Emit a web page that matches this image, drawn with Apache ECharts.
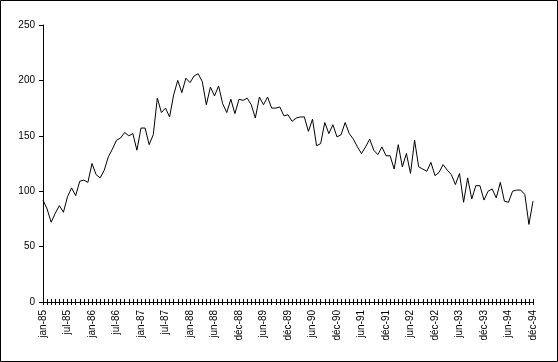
<!DOCTYPE html>
<html>
<head>
<meta charset="utf-8">
<script src="https://cdn.jsdelivr.net/npm/echarts@6/dist/echarts.min.js"></script>
<style>
html,body{margin:0;padding:0;background:#fff;}
#chart{width:558px;height:362px;}
</style>
</head>
<body>
<div id="chart"></div>
<script>
const categories = [
"jan-85","fév-85","mar-85","avr-85","mai-85","jun-85","jul-85","aoû-85","sep-85","oct-85","nov-85","déc-85",
"jan-86","fév-86","mar-86","avr-86","mai-86","jun-86","jul-86","aoû-86","sep-86","oct-86","nov-86","déc-86",
"jan-87","fév-87","mar-87","avr-87","mai-87","jun-87","jul-87","aoû-87","sep-87","oct-87","nov-87","déc-87",
"jan-88","fév-88","mar-88","avr-88","avr-88","mai-88",
"jun-88","jul-88","aoû-88","sep-88","oct-88","nov-88","déc-88",
"jan-89","fév-89","mar-89","avr-89","mai-89","jun-89","jul-89","aoû-89","sep-89","oct-89","nov-89","déc-89",
"jan-90","fév-90","mar-90","avr-90","mai-90","jun-90","jul-90","aoû-90","sep-90","oct-90","nov-90","déc-90",
"jan-91","fév-91","mar-91","avr-91","mai-91","jun-91","jul-91","aoû-91","sep-91","oct-91","nov-91","déc-91",
"jan-92","fév-92","mar-92","avr-92","mai-92","jun-92","jul-92","aoû-92","sep-92","oct-92","nov-92","déc-92",
"jan-93","fév-93","mar-93","avr-93","mai-93","jun-93","jul-93","aoû-93","sep-93","oct-93","nov-93","déc-93",
"jan-94","fév-94","mar-94","avr-94","mai-94","jun-94","jul-94","aoû-94","sep-94","oct-94","nov-94","déc-94"
];
const values = [
92,84,72,80,87,81,95,103,96,109,110,108,
125,115,112,119,131,138,146,148,153,150,152,137,
157,157,142,151,184,171,175,167,187,200,189,202,
198,204,206,199,178,194,
186,195,179,171,183,170,183,
182,184,178,166,185,178,185,175,175,176,168,169,
163,166,167,167,154,165,141,143,162,152,160,149,
151,162,152,147,140,134,140,147,137,133,140,132,
132,120,142,122,134,116,146,122,120,118,126,114,
117,124,119,115,106,116,90,112,93,105,105,92,
100,102,94,108,91,90,100,101,101,97,70,91
];
const yTicks = [0, 50, 100, 150, 200, 250];

const chart = echarts.init(document.getElementById('chart'), null, {renderer:'canvas'});
const font = 'Liberation Sans, Arial, sans-serif';
chart.setOption({
  animation: false,
  backgroundColor: '#fff',
  textStyle: {fontFamily: font},
  grid: {left: 43, right: 25, top: 25, bottom: 60, containLabel: false},
  xAxis: [{
    type: 'category',
    data: categories,
    boundaryGap: false,
    position: 'bottom',
    axisLine: {show: true, lineStyle: {color: '#000', width: 1}},
    axisTick: {show: true, interval: 0, length: 3, lineStyle: {color: '#000'}},
    axisLabel: {interval: 5, rotate: 90, color: '#000', fontSize: 10, fontFamily: font, margin: 8},
    splitLine: {show: false}
  }, {
    type: 'category',
    data: categories,
    boundaryGap: false,
    position: 'bottom',
    axisLine: {show: false},
    axisTick: {show: true, inside: true, interval: 0, length: 3, lineStyle: {color: '#000'}},
    axisLabel: {show: false},
    splitLine: {show: false}
  }],
  yAxis: {
    type: 'value',
    min: yTicks[0],
    max: yTicks[yTicks.length - 1],
    interval: 50,
    axisLine: {show: true, lineStyle: {color: '#000', width: 1}},
    axisTick: {show: true, length: 4, lineStyle: {color: '#000'}},
    axisLabel: {color: '#000', fontSize: 10, fontFamily: font, margin: 8},
    splitLine: {show: false}
  },
  graphic: [{
    type: 'rect',
    shape: {x: 0.5, y: 0.5, width: 557, height: 361},
    style: {fill: 'none', stroke: '#000', lineWidth: 1},
    silent: true
  }],
  series: [{
    type: 'line',
    data: values,
    xAxisIndex: 0,
    showSymbol: false,
    symbol: 'none',
    lineStyle: {color: '#000', width: 1},
    itemStyle: {color: '#000'}
  }]
});
</script>
</body>
</html>
